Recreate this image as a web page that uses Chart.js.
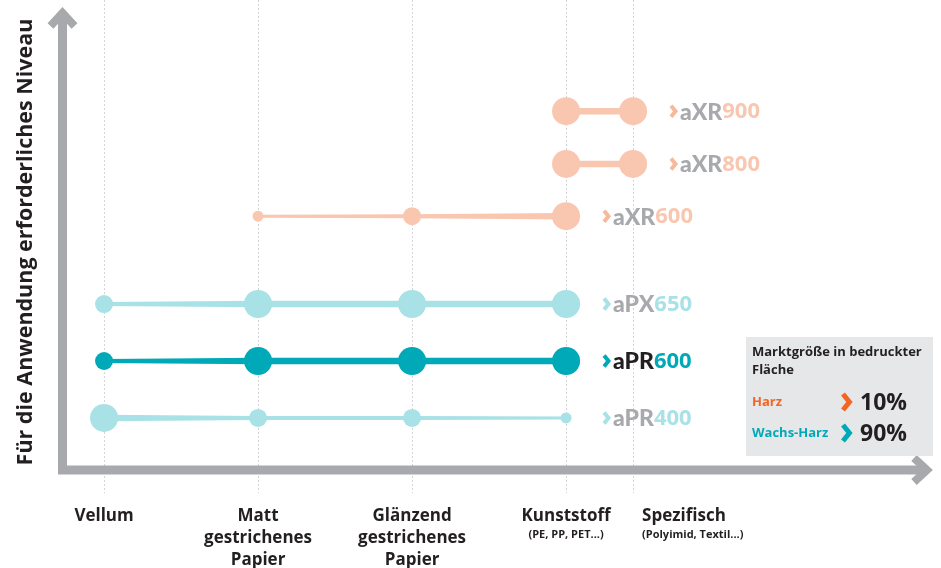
<!DOCTYPE html>
<html>
<head>
<meta charset="utf-8">
<script src="https://cdn.jsdelivr.net/npm/chart.js@4"></script>
<style>
  html, body { margin: 0; padding: 0; background: #fff; }
  canvas { display: block; }
</style>
</head>
<body>
<canvas id="chart" width="941" height="568"></canvas>
<script>
'use strict';

// Kategorien (x) und ihre Lage auf der Achse
const categories = [
    ['Vellum'],
    ['Matt', 'gestrichenes', 'Papier'],
    ['Glänzend', 'gestrichenes', 'Papier'],
    ['Kunststoff'],
    ['Spezifisch']
];
const categorySubs = ['', '', '', '(PE, PP, PET...)', '(Polyimid, Textil...)'];
const categoryPos = [0, 1, 2, 3, 3.435];

// Serien: Name, Niveau (y), Punktgröße je Kategorie (null = nicht vorhanden)
const seriesPrefix = ['aXR', 'aXR', 'aXR', 'aPX', 'aPR', 'aPR'];
const seriesNumber = ['900', '800', '600', '650', '600', '400'];
const seriesLevel = [7.62, 6.49, 5.37, 3.49, 2.27, 1.05];
const axr900Sizes = [null, null, null, 3, 3];
const axr800Sizes = [null, null, null, 3, 3];
const axr600Sizes = [null, 1, 2, 3, null];
const apx650Sizes = [2, 3, 3, 3, null];
const apr600Sizes = [2, 3, 3, 3, null];
const apr400Sizes = [3, 2, 2, 1, null];

// Legende
const legendTitle = ['Marktgröße in bedruckter', 'Fläche'];
const legendNames = ['Harz', 'Wachs-Harz'];
const legendValues = ['10%', '90%'];

const yTitle = 'Für die Anwendung erforderliches Niveau';

// Farben
const salmon = '#f9c6b0';
const lightTeal = '#a8e1e6';
const teal = '#00a9b8';
const axisGrey = '#a7a9ac';
const dark = '#231f20';
const orange = '#f26522';

const sizeRadius = { 1: 5.5, 2: 9, 3: 14 };
const sizeWidth = { 1: 3, 2: 4, 3: 6.5 };

const allSizes = [axr900Sizes, axr800Sizes, axr600Sizes, apx650Sizes, apr600Sizes, apr400Sizes];
const seriesColor = [salmon, salmon, salmon, lightTeal, teal, lightTeal];
const prefixColor = [axisGrey, axisGrey, axisGrey, axisGrey, dark, axisGrey];

const datasets = allSizes.map((sizes, i) => {
    const pts = [];
    const radii = [];
    sizes.forEach((s, c) => {
        if (s === null) return;
        pts.push({ x: categoryPos[c], y: seriesLevel[i], size: s });
        radii.push(sizeRadius[s]);
    });
    return {
        label: seriesPrefix[i] + seriesNumber[i],
        data: pts,
        showLine: false,
        pointRadius: radii,
        pointHoverRadius: radii,
        pointBackgroundColor: seriesColor[i],
        pointBorderWidth: 0,
        pointHoverBorderWidth: 0
    };
});

// Raster, Achsen, verjüngte Linien
const backgroundPlugin = {
    id: 'background',
    beforeDatasetsDraw(chart) {
        const { ctx, chartArea } = chart;
        const xs = chart.scales.x;
        ctx.save();

        // gepunktete Hilfslinien
        ctx.strokeStyle = '#d3d4d6';
        ctx.lineWidth = 1;
        ctx.setLineDash([2, 2]);
        categoryPos.forEach(v => {
            const px = Math.round(xs.getPixelForValue(v)) + 0.5;
            ctx.beginPath();
            ctx.moveTo(px, 0);
            ctx.lineTo(px, 493);
            ctx.stroke();
        });
        ctx.setLineDash([]);

        // Achsen mit Pfeilspitzen
        const ax = chartArea.left - 1.5;
        const ay = chartArea.bottom + 3;
        ctx.strokeStyle = axisGrey;
        ctx.lineWidth = 9;
        ctx.lineCap = 'butt';
        ctx.lineJoin = 'miter';
        ctx.beginPath();
        ctx.moveTo(ax, ay);
        ctx.lineTo(ax, 12);
        ctx.moveTo(ax - 4.5, ay);
        ctx.lineTo(922, ay);
        ctx.stroke();

        ctx.lineWidth = 8;
        ctx.beginPath();
        ctx.moveTo(ax - 12, 26);
        ctx.lineTo(ax, 13);
        ctx.lineTo(ax + 12, 26);
        ctx.stroke();
        ctx.beginPath();
        ctx.moveTo(914, ay - 12);
        ctx.lineTo(927, ay);
        ctx.lineTo(914, ay + 12);
        ctx.stroke();

        // verjüngte Verbindungslinien
        chart.data.datasets.forEach((ds, i) => {
            const meta = chart.getDatasetMeta(i);
            ctx.fillStyle = seriesColor[i];
            for (let k = 0; k < meta.data.length - 1; k++) {
                const p0 = meta.data[k];
                const p1 = meta.data[k + 1];
                const w0 = sizeWidth[ds.data[k].size] / 2;
                const w1 = sizeWidth[ds.data[k + 1].size] / 2;
                ctx.beginPath();
                ctx.moveTo(p0.x, p0.y - w0);
                ctx.lineTo(p1.x, p1.y - w1);
                ctx.lineTo(p1.x, p1.y + w1);
                ctx.lineTo(p0.x, p0.y + w0);
                ctx.closePath();
                ctx.fill();
            }
        });
        ctx.restore();
    }
};

function drawChevron(ctx, x, y, color, h, lw) {
    ctx.save();
    ctx.strokeStyle = color;
    ctx.lineWidth = lw;
    ctx.lineJoin = 'miter';
    ctx.beginPath();
    ctx.moveTo(x, y - h);
    ctx.lineTo(x + h * 0.8, y);
    ctx.lineTo(x, y + h);
    ctx.stroke();
    ctx.restore();
}

// Beschriftungen
const labelPlugin = {
    id: 'labels',
    afterDraw(chart) {
        const { ctx } = chart;
        const xs = chart.scales.x;
        ctx.save();

        // Kategorienamen
        ctx.fillStyle = dark;
        ctx.textBaseline = 'middle';
        categories.forEach((lines, c) => {
            const px = xs.getPixelForValue(categoryPos[c]);
            const leftAligned = c === 4;
            ctx.textAlign = leftAligned ? 'left' : 'center';
            const tx = leftAligned ? px + 9 : px;
            ctx.font = 'bold 17px "Open Sans", sans-serif';
            lines.forEach((t, l) => ctx.fillText(t, tx, 516 + l * 22));
            if (categorySubs[c]) {
                ctx.font = 'bold 11px "Open Sans", sans-serif';
                ctx.fillText(categorySubs[c], tx, 535);
            }
        });

        // Titel der y-Achse
        ctx.save();
        ctx.translate(26, 242);
        ctx.rotate(-Math.PI / 2);
        ctx.textAlign = 'center';
        ctx.font = 'bold 21.5px "Open Sans", sans-serif';
        ctx.fillText(yTitle, 0, 0);
        ctx.restore();

        // Serienetiketten rechts
        chart.data.datasets.forEach((ds, i) => {
            const meta = chart.getDatasetMeta(i);
            const last = meta.data[meta.data.length - 1];
            let x = last.x + 37;
            const y = last.y;
            const col = seriesColor[i];
            drawChevron(ctx, x + 1, y, col === salmon ? '#f7b89b' : col, 5.5, 4);
            x += 10;
            ctx.textAlign = 'left';
            ctx.font = '900 23px "Lato", sans-serif';
            ctx.fillStyle = prefixColor[i];
            ctx.fillText(seriesPrefix[i], x, y + 1);
            x += ctx.measureText(seriesPrefix[i]).width;
            ctx.font = 'bold 22px "Open Sans", sans-serif';
            ctx.fillStyle = col;
            ctx.fillText(seriesNumber[i], x, y + 1);
        });

        // Legendenkasten
        ctx.fillStyle = '#e6e7e8';
        ctx.fillRect(746, 337, 187, 119);
        ctx.fillStyle = dark;
        ctx.textAlign = 'left';
        ctx.font = 'bold 13px "Open Sans", sans-serif';
        legendTitle.forEach((t, l) => ctx.fillText(t, 752, 352 + l * 18));
        const legendColors = [orange, teal];
        legendNames.forEach((n, l) => {
            const y = 402 + l * 31;
            ctx.font = 'bold 13px "Open Sans", sans-serif';
            ctx.fillStyle = legendColors[l];
            ctx.fillText(n, 752, y);
            drawChevron(ctx, 843, y, legendColors[l], 8, 5);
            ctx.font = 'bold 23px "Open Sans", sans-serif';
            ctx.fillStyle = dark;
            ctx.fillText(legendValues[l], 860, y + 1);
        });
        ctx.restore();
    }
};

new Chart(document.getElementById('chart').getContext('2d'), {
    type: 'scatter',
    data: { datasets: datasets },
    options: {
        responsive: false,
        animation: false,
        events: [],
        layout: { autoPadding: false, padding: { left: 64, right: 11, top: 0, bottom: 101 } },
        plugins: { legend: { display: false }, tooltip: { enabled: false } },
        scales: {
            x: { type: 'linear', display: false, min: -0.26, max: 5.363 },
            y: { type: 'linear', display: false, min: 0, max: 10 }
        }
    },
    plugins: [backgroundPlugin, labelPlugin]
});
</script>
</body>
</html>
